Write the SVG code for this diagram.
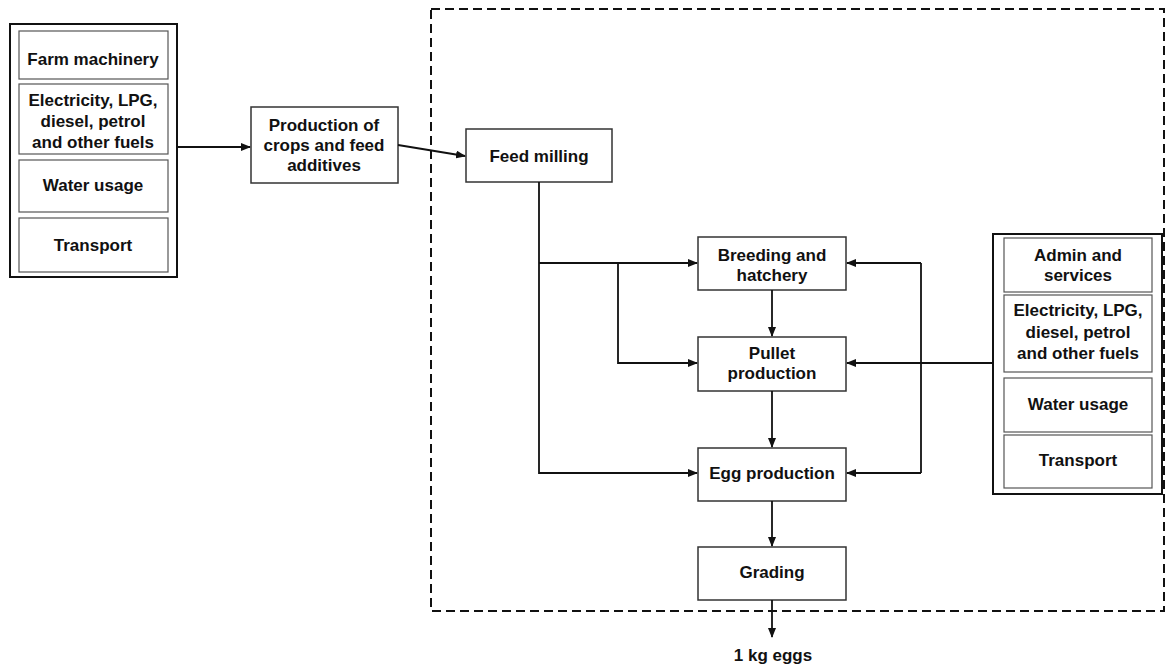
<svg xmlns="http://www.w3.org/2000/svg" width="1169" height="666" viewBox="0 0 1169 666">
<defs>
<marker id="arr" markerWidth="10" markerHeight="8" refX="9" refY="4" orient="auto" markerUnits="userSpaceOnUse">
<path d="M0,0 L10,4 L0,8 Z" fill="#111"/>
</marker>
<style>
.box{fill:#fff;stroke:#333;stroke-width:1.5}
.outer{fill:#fff;stroke:#111;stroke-width:2}
.inner{fill:#fff;stroke:#555;stroke-width:1.2}
.t{font-family:"Liberation Sans",Arial,sans-serif;font-weight:bold;font-size:17px;fill:#111;text-anchor:middle;dominant-baseline:central}
.c{fill:none;stroke:#111;stroke-width:1.8}
.dash{fill:none;stroke:#111;stroke-width:2;stroke-dasharray:9 5}
</style>
</defs>
<rect width="1169" height="666" fill="#fff"/>
<rect class="dash" x="431" y="9" width="733" height="602"/>

<g id="left-inputs">
<rect class="outer" x="10" y="24" width="167" height="253"/>
<rect class="inner" x="19" y="31" width="149" height="48"/>
<rect class="inner" x="19" y="84" width="149" height="70"/>
<rect class="inner" x="19" y="160" width="149" height="52"/>
<rect class="inner" x="19" y="218" width="149" height="54"/>
<text class="t" x="93" y="59">Farm machinery</text>
<text class="t" x="93" y="100">Electricity, LPG,</text>
<text class="t" x="93" y="121">diesel, petrol</text>
<text class="t" x="93" y="142">and other fuels</text>
<text class="t" x="93" y="185">Water usage</text>
<text class="t" x="93" y="245">Transport</text>
</g>

<g id="production">
<rect class="box" x="251" y="107" width="147" height="76"/>
<text class="t" x="324" y="125">Production of</text>
<text class="t" x="324" y="145">crops and feed</text>
<text class="t" x="324" y="165">additives</text>
</g>

<g id="feed-milling">
<rect class="box" x="466" y="129" width="146" height="53"/>
<text class="t" x="539" y="156">Feed milling</text>
</g>

<g id="breeding">
<rect class="box" x="698" y="237" width="148" height="53"/>
<text class="t" x="772" y="255">Breeding and</text>
<text class="t" x="772" y="275">hatchery</text>
</g>

<g id="pullet">
<rect class="box" x="698" y="337" width="148" height="54"/>
<text class="t" x="772" y="353">Pullet</text>
<text class="t" x="772" y="373">production</text>
</g>

<g id="egg">
<rect class="box" x="698" y="448" width="148" height="53"/>
<text class="t" x="772" y="473">Egg production</text>
</g>

<g id="grading">
<rect class="box" x="698" y="547" width="148" height="53"/>
<text class="t" x="772" y="572">Grading</text>
</g>

<g id="output">
<text class="t" x="773" y="655">1 kg eggs</text>
</g>

<g id="right-inputs">
<rect class="outer" x="993" y="234" width="169" height="260"/>
<rect class="inner" x="1004" y="238" width="148" height="54"/>
<rect class="inner" x="1004" y="295" width="148" height="77"/>
<rect class="inner" x="1004" y="378" width="148" height="54"/>
<rect class="inner" x="1004" y="435" width="148" height="53"/>
<text class="t" x="1078" y="255">Admin and</text>
<text class="t" x="1078" y="275">services</text>
<text class="t" x="1078" y="310">Electricity, LPG,</text>
<text class="t" x="1078" y="332">diesel, petrol</text>
<text class="t" x="1078" y="353">and other fuels</text>
<text class="t" x="1078" y="404">Water usage</text>
<text class="t" x="1078" y="460">Transport</text>
</g>

<g id="connectors">
<path class="c" d="M177,147 L250,147" marker-end="url(#arr)"/>
<path class="c" d="M398,145 L465,156" marker-end="url(#arr)"/>
<path class="c" d="M539,182 L539,473 L697,473" marker-end="url(#arr)"/>
<path class="c" d="M539,263 L697,263" marker-end="url(#arr)"/>
<path class="c" d="M618,263 L618,363 L697,363" marker-end="url(#arr)"/>
<path class="c" d="M772,290 L772,336" marker-end="url(#arr)"/>
<path class="c" d="M772,391 L772,447" marker-end="url(#arr)"/>
<path class="c" d="M772,501 L772,546" marker-end="url(#arr)"/>
<path class="c" d="M772,600 L772,637" marker-end="url(#arr)"/>
<path class="c" d="M993,363 L847,363" marker-end="url(#arr)"/>
<path class="c" d="M921,263 L921,473"/>
<path class="c" d="M921,263 L847,263" marker-end="url(#arr)"/>
<path class="c" d="M921,473 L847,473" marker-end="url(#arr)"/>
</g>
</svg>
